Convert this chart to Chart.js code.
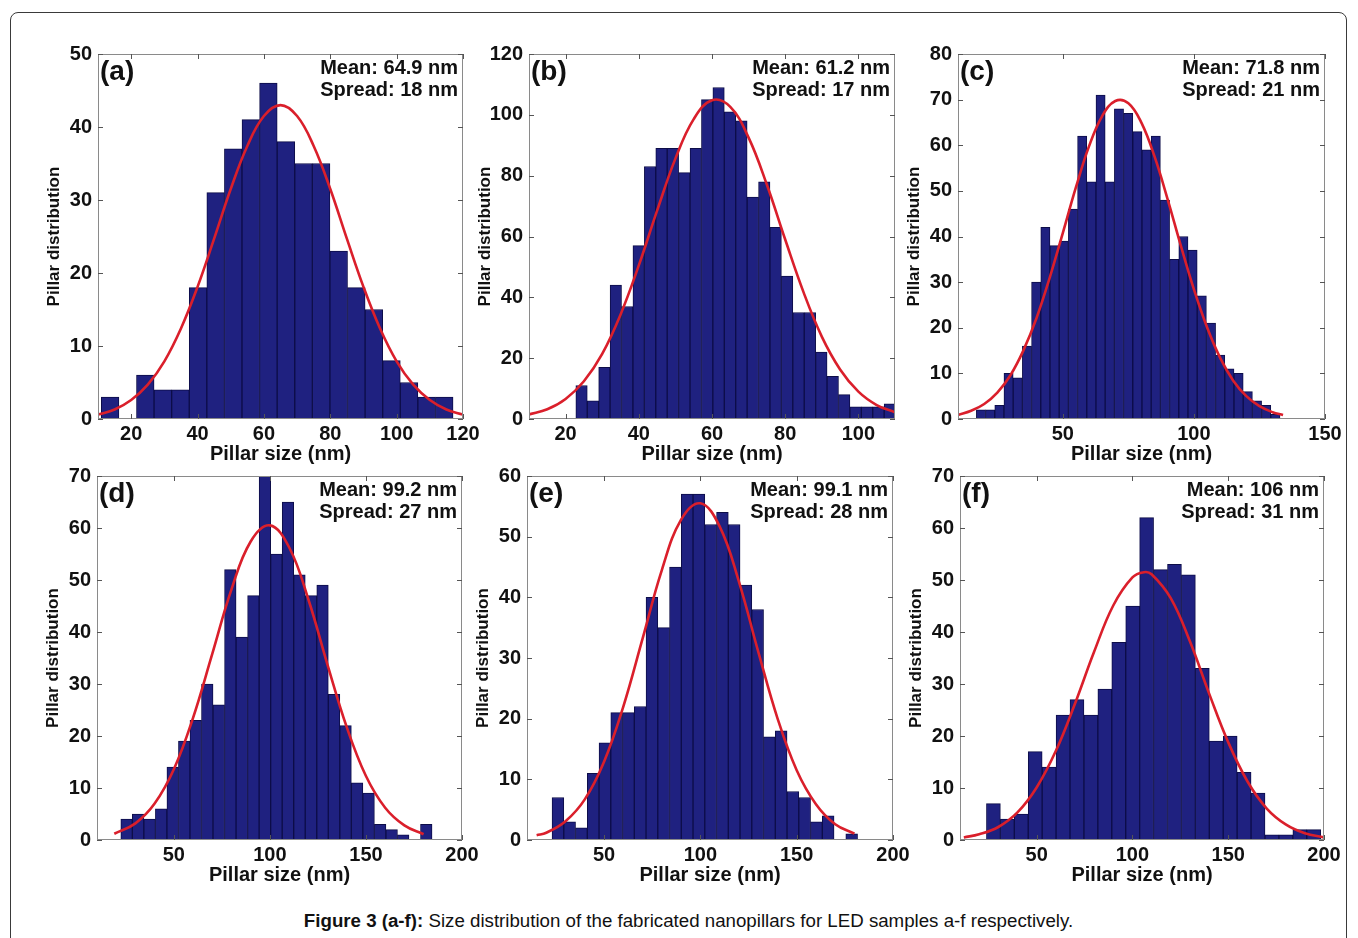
<!DOCTYPE html>
<html>
<head>
<meta charset="utf-8">
<script src="https://cdn.jsdelivr.net/npm/chart.js@4.4.1/dist/chart.umd.min.js"></script>
<style>
  html,body{margin:0;padding:0;background:#fff;}
  body{width:1358px;height:938px;position:relative;overflow:hidden;font-family:"Liberation Sans",Arial,sans-serif;}
  #frame{position:absolute;left:10px;top:12px;width:1337px;height:960px;border:1px solid #3a3a3a;border-radius:8px;box-sizing:border-box;}
  canvas{position:absolute;}
  #caption{position:absolute;left:0;top:910px;width:1377px;text-align:center;font-size:18.7px;line-height:22px;color:#111;
    font-family:"Liberation Sans Narrow","Arial Narrow","Liberation Sans",Arial,sans-serif;}
  #caption b{font-weight:bold;}
</style>
</head>
<body>
<div id="frame"></div>
<div id="caption"><b>Figure 3 (a-f):</b> Size distribution of the fabricated nanopillars for LED samples a-f respectively.</div>
<script>
// ---------- Data ----------
// Panel (a)
const aBins   = [13.65,18.95,24.25,29.55,34.85,40.15,45.45,50.75,56.05,61.35,66.65,71.95,77.25,82.55,87.85,93.15,98.45,103.75,109.05,114.35];
const aCounts = [3,0,6,4,4,18,31,37,41,46,38,35,35,23,18,15,8,5,3,3];
const aFitX   = [10,15,20,25,30,35,40,45,50,55,60,65,70,75,80,85,90,95,100,105,110,115,120];
const aFitY   = [0.6,1.3,2.6,4.7,7.9,12.4,18.1,24.7,31.5,37.4,41.5,43,41.5,37.4,31.5,24.7,18.1,12.4,7.9,4.7,2.6,1.3,0.6];
const aXTicks = [20,40,60,80,100,120];
const aYTicks = [0,10,20,30,40,50];

// Panel (b)
const bBins   = [24.36,27.48,30.60,33.72,36.84,39.96,43.08,46.20,49.32,52.44,55.56,58.68,61.80,64.92,68.04,71.16,74.28,77.40,80.52,83.64,86.76,89.88,93.00,96.12,99.24,102.36,105.48,108.60];
const bCounts = [11,6,17,44,37,57,83,89,89,81,89,105,109,101,98,73,78,63,47,35,35,22,14,8,4,4,4,5];
const bFitX   = [10,15,20,25,30,35,40,45,50,55,60,65,70,75,80,85,90,95,100,105,110];
const bFitY   = [1.5,3.2,6.6,12.4,21.4,34.3,50.5,68.5,85.6,98.6,104.8,102.6,92.5,77,59,41.7,27.1,16.3,9.0,4.6,2.2];
const bXTicks = [20,40,60,80,100];
const bYTicks = [0,20,40,60,80,100,120];

// Panel (c)
const cBins   = [18.76,22.27,25.78,29.29,32.80,36.31,39.82,43.33,46.84,50.35,53.86,57.37,60.88,64.39,67.90,71.41,74.92,78.43,81.94,85.45,88.96,92.47,95.98,99.49,103.00,106.51,110.02,113.53,117.04,120.55,124.06,127.57,131.08];
const cCounts = [2,2,3,10,9,16,30,42,38,39,46,62,52,71,52,68,67,63,59,62,48,35,40,37,27,21,14,11,10,6,4,3,1];
const cFitX   = [10,15,20,25,30,35,40,45,50,55,60,65,70,75,80,85,90,95,100,105,110,115,120,125,130,134];
const cFitY   = [0.9,1.8,3.3,5.8,9.6,15.1,22.2,31.0,40.8,50.8,59.8,66.4,69.7,69.2,64.9,57.5,48.1,38.0,28.4,20.1,13.4,8.4,5.0,2.8,1.5,0.9];
const cXTicks = [50,100,150];
const cYTicks = [0,10,20,30,40,50,60,70,80];

// Panel (d)
const dBins   = [25.4,31.4,37.4,43.4,49.4,55.4,61.4,67.4,73.4,79.4,85.4,91.4,97.4,103.4,109.4,115.4,121.4,127.4,133.4,139.4,145.4,151.4,157.4,163.4,169.4,175.4,181.4];
const dCounts = [4,5,4,6,14,19,23,30,26,52,39,47,71,55,65,51,47,49,28,22,11,9,3,2,1,0,3];
const dFitX   = [19,30,40,50,60,70,80,90,100,110,120,130,140,150,160,170,180];
const dFitY   = [1.2,3.2,7.0,13.6,23.5,35.8,48.2,57.4,60.5,56.3,46.3,33.7,21.7,12.3,6.2,2.8,1.1];
const dXTicks = [50,100,150,200];
const dYTicks = [0,10,20,30,40,50,60,70];

// Panel (e)
const eBins   = [26.05,32.15,38.25,44.35,50.45,56.55,62.65,68.75,74.85,80.95,87.05,93.15,99.25,105.35,111.45,117.55,123.65,129.75,135.85,141.95,148.05,154.15,160.25,166.35,172.45,178.55];
const eCounts = [7,3,2,11,16,21,21,22,40,35,45,57,57,52,54,52,42,38,17,18,8,7,3,4,0,1];
const eFitX   = [15,20,30,40,50,60,70,80,90,100,110,120,130,140,150,160,170,180];
const eFitY   = [0.8,1.2,3.1,6.7,12.9,22.0,33.2,44.5,52.8,55.5,51.7,42.6,31.1,20.1,11.5,5.9,2.6,1.05];
const eXTicks = [50,100,150,200];
const eYTicks = [0,10,20,30,40,50,60];

// Panel (f)
const fBins   = [27.44,34.71,41.98,49.25,56.52,63.79,71.06,78.33,85.60,92.87,100.14,107.41,114.68,121.95,129.22,136.49,143.76,151.03,158.30,165.57,172.84,180.11,187.38,194.65];
const fCounts = [7,4,5,17,14,24,27,24,29,38,45,62,52,53,51,33,19,20,13,9,1,1,2,2];
const fFitX   = [12,20,30,40,50,60,70,80,90,100,106,110,120,130,140,150,160,170,180,190,200];
const fFitY   = [0.5,1.1,2.5,5.3,10.1,17.1,26.2,36.2,45.1,50.5,51.5,51.1,46.5,38.2,28.2,18.8,11.3,6.1,3.0,1.3,0.5];
const fXTicks = [50,100,150,200];
const fYTicks = [0,10,20,30,40,50,60,70];

const panelLetters = ['(a)','(b)','(c)','(d)','(e)','(f)'];
const meanLabels   = ['Mean: 64.9 nm','Mean: 61.2 nm','Mean: 71.8 nm','Mean: 99.2 nm','Mean: 99.1 nm','Mean: 106 nm'];
const spreadLabels = ['Spread: 18 nm','Spread: 17 nm','Spread: 21 nm','Spread: 27 nm','Spread: 28 nm','Spread: 31 nm'];
const xRanges = [[10,120],[10,110],[10,150],[10,200],[10,200],[10,200]];
const xTitle = 'Pillar size (nm)';
const yTitle = 'Pillar distribution';

// ---------- Layout (plot-area boxes in page pixels) ----------
const boxes = [
  {left:98,  top:50,  right:463,  bottom:419},
  {left:529, top:50,  right:895,  bottom:419},
  {left:958, top:50,  right:1325, bottom:419},
  {left:97,  top:472, right:462,  bottom:840},
  {left:527, top:472, right:893,  bottom:840},
  {left:960, top:472, right:1324, bottom:840}
];

const series = [
  [aBins,aCounts,aFitX,aFitY,aXTicks,aYTicks],
  [bBins,bCounts,bFitX,bFitY,bXTicks,bYTicks],
  [cBins,cCounts,cFitX,cFitY,cXTicks,cYTicks],
  [dBins,dCounts,dFitX,dFitY,dXTicks,dYTicks],
  [eBins,eCounts,eFitX,eFitY,eXTicks,eYTicks],
  [fBins,fCounts,fFitX,fFitY,fXTicks,fYTicks]
];

const FONT = '"Liberation Sans", Arial, Helvetica, sans-serif';
const Y_AXIS_W = 54, X_AXIS_H = 47, PAD_TOP = 14, PAD_RIGHT = 24;

const framePlugin = {
  id: 'frame',
  afterDraw(chart, args, opts) {
    const {ctx, chartArea} = chart;
    const {left, top, right, bottom} = chartArea;
    const xs = chart.scales.x, ys = chart.scales.y;
    ctx.save();
    ctx.strokeStyle = '#8a8a8a';
    ctx.lineWidth = 1;
    ctx.strokeRect(left + 0.5, top + 0.5, right - left - 1, bottom - top - 1);
    ctx.strokeStyle = '#555';
    ctx.beginPath();
    xs.ticks.forEach(t => {
      const px = Math.round(xs.getPixelForValue(t.value)) + 0.5;
      ctx.moveTo(px, bottom); ctx.lineTo(px, bottom - 5);
      ctx.moveTo(px, top); ctx.lineTo(px, top + 5);
    });
    ys.ticks.forEach(t => {
      const py = Math.round(ys.getPixelForValue(t.value)) + 0.5;
      ctx.moveTo(left, py); ctx.lineTo(left + 5, py);
      ctx.moveTo(right, py); ctx.lineTo(right - 5, py);
    });
    ctx.stroke();
    ctx.fillStyle = '#111';
    ctx.textBaseline = 'alphabetic';
    ctx.textAlign = 'left';
    ctx.font = 'bold 28px ' + FONT;
    ctx.fillText(opts.letter, left + 2, top + 26);
    ctx.textAlign = 'right';
    ctx.font = 'bold 20px ' + FONT;
    ctx.fillText(opts.mean, right - 5, top + 20);
    ctx.fillText(opts.spread, right - 5, top + 42);
    ctx.restore();
  }
};

series.forEach((s, i) => {
  const [bins, counts, fitX, fitY, xTicks, yTicks] = s;
  const b = boxes[i];
  const L = b.left - Y_AXIS_W, T = b.top - PAD_TOP;
  const W = b.right - L + PAD_RIGHT, H = b.bottom - T + X_AXIS_H;
  const cv = document.createElement('canvas');
  cv.width = W; cv.height = H;
  cv.style.left = L + 'px'; cv.style.top = T + 'px';
  cv.style.width = W + 'px'; cv.style.height = H + 'px';
  document.body.appendChild(cv);

  new Chart(cv, {
    type: 'bar',
    data: {
      datasets: [
        {
          type: 'line',
          data: fitX.map((x, k) => ({x: x, y: fitY[k]})),
          borderColor: '#da1f2b',
          borderWidth: 2.6,
          pointRadius: 0,
          fill: false,
          tension: 0.4,
          order: 0
        },
        {
          type: 'bar',
          data: bins.map((x, k) => ({x: x, y: counts[k]})),
          backgroundColor: '#1f2180',
          borderColor: '#0d0d48',
          borderWidth: 1,
          barPercentage: 1,
          categoryPercentage: 1,
          order: 1
        }
      ]
    },
    options: {
      responsive: false,
      animation: false,
      devicePixelRatio: 1,
      layout: {padding: {top: PAD_TOP, right: PAD_RIGHT, left: 0, bottom: 0}},
      plugins: {
        legend: {display: false},
        tooltip: {enabled: false},
        frame: {letter: panelLetters[i], mean: meanLabels[i], spread: spreadLabels[i]}
      },
      scales: {
        x: {
          type: 'linear',
          min: xRanges[i][0],
          max: xRanges[i][1],
          offset: false,
          afterBuildTicks: sc => { sc.ticks = xTicks.map(v => ({value: v})); },
          afterFit: sc => { sc.height = X_AXIS_H; },
          grid: {display: false, drawTicks: false},
          border: {display: false},
          ticks: {
            autoSkip: false, maxRotation: 0, padding: 3, color: '#111',
            font: {family: FONT, size: 20, weight: 'bold'}
          },
          title: {
            display: true, text: xTitle, color: '#111', padding: 0,
            font: {family: FONT, size: 20, weight: 'bold'}
          }
        },
        y: {
          type: 'linear',
          min: yTicks[0],
          max: yTicks[yTicks.length - 1],
          afterBuildTicks: sc => { sc.ticks = yTicks.map(v => ({value: v})); },
          afterFit: sc => { sc.width = Y_AXIS_W; },
          grid: {display: false, drawTicks: false},
          border: {display: false},
          ticks: {
            autoSkip: false, padding: 6, color: '#111',
            font: {family: FONT, size: 20, weight: 'bold'}
          },
          title: {
            display: true, text: yTitle, color: '#111', padding: 0,
            font: {family: FONT, size: 17, weight: 'bold'}
          }
        }
      }
    },
    plugins: [framePlugin]
  });
});
</script>
</body>
</html>
